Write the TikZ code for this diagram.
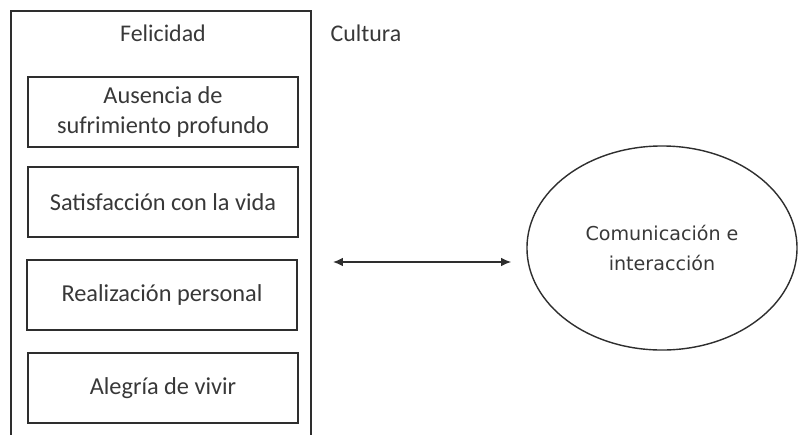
\documentclass[tikz,border=0pt]{standalone}
\usepackage{fontspec}
\setmainfont{Carlito}
\newfontfamily\elipsefont{DejaVu Sans}
\usetikzlibrary{arrows.meta,shapes.geometric}
\definecolor{trazo}{HTML}{2E2E2E}
\definecolor{letra}{HTML}{383838}
\tikzset{
  caja/.style={draw=trazo, line width=1.3pt, minimum width=6.75cm, minimum height=1.75cm,
    align=center, text=letra, font=\fontsize{17.3}{21}\selectfont},
  rotulo/.style={text=letra, font=\fontsize{17}{19}\selectfont}
}

\begin{document}
\begin{tikzpicture}[x=0.025cm, y=-0.025cm]
            \useasboundingbox (0,0) rectangle (798,435);
            \node [draw=trazo, line width=1.3pt, minimum width=7.5cm, minimum height=10.9cm] (marco) at (161,229) {};
            \node [rotulo] (felicidad) at (163,33) {Felicidad};
            \node [rotulo] (cultura) at (366,33) {Cultura};

            \node [caja] (ausencia) at (163,112) {Ausencia de\\sufrimiento profundo};
            \node [caja] (satisfaccion) at (163,202) {Satisfacción con la vida};
            \node [caja] (realizacion) at (162,295) {Realización personal};
            \node [caja] (alegria) at (163,388) {Alegría de vivir};

            \node [draw=trazo, line width=1pt, ellipse, minimum width=6.75cm, minimum height=5.1cm,
                   align=center, text=letra, font=\elipsefont\fontsize{13.6}{21}\selectfont] (comunicacion) at (662,248)
                   {Comunicación e\\interacción};

            \coordinate (flecha) at (333,262);
            \draw [{Latex[length=7pt,width=6pt]}-{Latex[length=7pt,width=6pt]}, trazo, line width=0.8pt, shorten >=0.38cm]
                (flecha) -- (flecha -| comunicacion.west);
        \end{tikzpicture}
\end{document}
